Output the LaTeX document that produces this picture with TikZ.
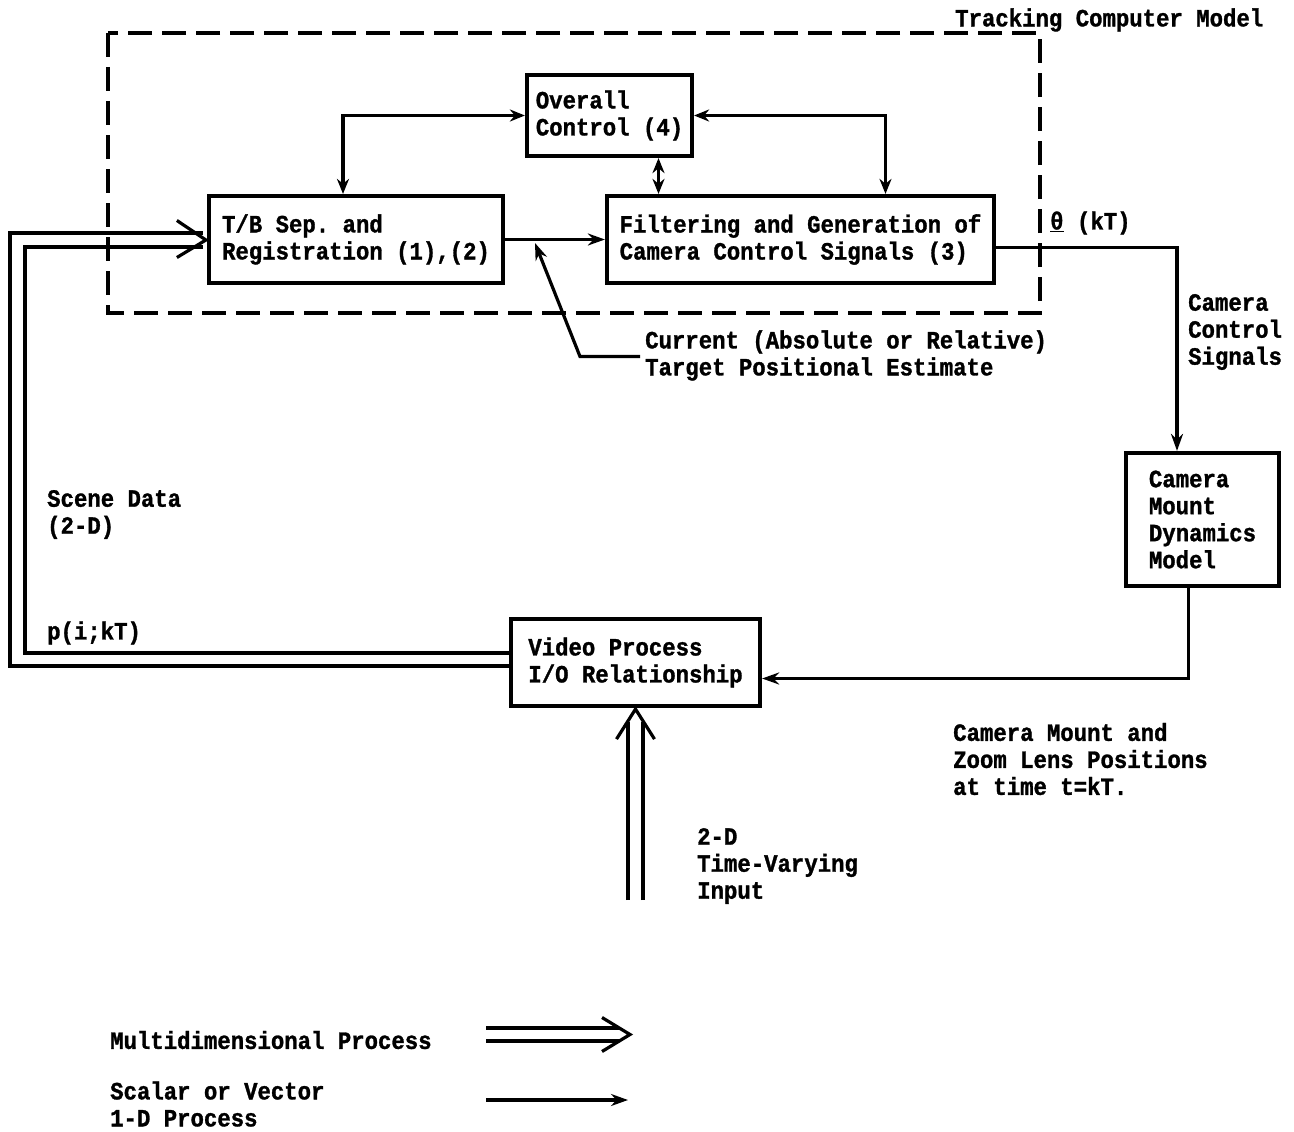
\documentclass[tikz,border=0pt]{standalone}
\usepackage{fontspec}
\setmainfont{Liberation Mono}[FakeStretch=0.9,FakeBold=1.2]
\usetikzlibrary{arrows.meta,calc}
\begin{document}
\frenchspacing
\begin{tikzpicture}[x=1pt,y=-1pt,
  font=\fontsize{24.8}{27}\selectfont\bfseries\frenchspacing,
  box/.style={draw,line width=4.2pt,inner sep=0pt,align=left},
  lbl/.style={inner sep=0pt,anchor=west,align=left},
  conn/.style={line width=3.2pt},
  arr/.style={conn,-{Stealth[length=17pt,width=12pt]}},
  darr/.style={conn,{Stealth[length=15pt,width=12pt]}-{Stealth[length=15pt,width=12pt]}},
  chev/.style={line width=3.2pt,line join=miter}
]
\useasboundingbox (0,0) rectangle (1294,1132);
\fill[white] (0,0) rectangle (1294,1132);

% dashed frame
\draw[line width=3.4pt,dash pattern=on 24pt off 10pt] (108,33) rectangle (1040,313);
\node[lbl] (tcm) at (955,20) {Tracking Computer Model};

% boxes
\node[box,minimum width=165pt,minimum height=81pt] (ov) at (609.5,115.5) {Overall\\Control (4)};
\node[box,minimum width=294pt,minimum height=87pt] (tb) at (356,239.5) {T/B Sep. and\\Registration (1),(2)};
\node[box,minimum width=387pt,minimum height=87pt] (flt) at (800.5,239.5) {Filtering and Generation of\\Camera Control Signals (3)};
\node[box,minimum width=153pt,minimum height=133pt] (cam) at (1202.5,519.5) {Camera\\Mount\\Dynamics\\Model};
\node[box,minimum width=249pt,minimum height=87pt] (vid) at (635.5,662.5) {Video Process\\I/O Relationship};

% labels
\node[lbl] (theta) at (1050,223) {\underline{θ} (kT)};
\node[lbl] (ccs) at (1188,332) {Camera\\Control\\Signals};
\node[lbl] (cur) at (645,355.5) {Current (Absolute or Relative)\\Target Positional Estimate};
\node[lbl] (scene) at (47,514.5) {Scene Data\\(2-D)};
\node[lbl] (pik) at (47,633) {p(i;kT)};
\node[lbl] (cmz) at (953,759) {Camera Mount and\\Zoom Lens Positions\\at time t=kT.};
\node[lbl] (tvi) at (697,866) {2-D\\Time-Varying\\Input};
\node[lbl] (lg1) at (110,1040) {Multidimensional Process};
\node[lbl] (lg2) at (110,1104) {Scalar or Vector\\1-D Process};

% connectors inside the tracking computer
\draw[darr] (ov.west) -| ([xshift=-13pt]tb.north);
\draw[darr] (ov.east) -| ([xshift=85pt]flt.north);
\draw[darr] ([xshift=49pt]ov.south) -- ([xshift=49pt]ov.south |- flt.north);
\draw[arr] (tb.east) -- (flt.west);

% current estimate pointer
\coordinate (tip) at (535,243);
\draw[arr] ([xshift=-5pt,yshift=-1pt]cur.west) -- (580,356.5) -- (tip);

% output to camera mount and back
\draw[arr] ([yshift=-8pt]flt.east) -| ([xshift=-25.5pt]cam.north);
\draw[arr] ([xshift=-14pt]cam.south) |- ([yshift=-16pt]vid.east);

% multidimensional feedback video -> T/B
\coordinate (oc) at (10,450);
\coordinate (ic) at (25,450);
\draw[conn] ([yshift=-3.5pt]vid.west) -| (oc) |- ([xshift=-4pt,yshift=6.5pt]tb.west);
\draw[conn] ([yshift=9.5pt]vid.west) -| (ic) |- ([xshift=-4pt,yshift=-7.5pt]tb.west);
\draw[chev] ([xshift=-30pt,yshift=19pt]tb.west) -- ([xshift=-1pt,yshift=-0.5pt]tb.west) -- ([xshift=-30pt,yshift=-18pt]tb.west);

% multidimensional input into video
\coordinate (inp) at (635.5,900);
\draw[conn] ([xshift=-7.5pt]inp) -- ([xshift=-7.5pt,yshift=-14pt]vid.south);
\draw[conn] ([xshift=7.5pt]inp) -- ([xshift=7.5pt,yshift=-14pt]vid.south);
\draw[chev] ([xshift=-19pt,yshift=-31pt]vid.south) -- ([yshift=-1pt]vid.south) -- ([xshift=19pt,yshift=-31pt]vid.south);

% legend
\coordinate (m0) at (486,1034.5);
\coordinate (m1) at (630,1034.5);
\draw[conn] ([yshift=6.5pt]m0) -- ([xshift=-11pt,yshift=6.5pt]m1);
\draw[conn] ([yshift=-6.5pt]m0) -- ([xshift=-11pt,yshift=-6.5pt]m1);
\draw[chev] ([xshift=-28pt,yshift=17pt]m1) -- (m1) -- ([xshift=-28pt,yshift=-17pt]m1);
\coordinate (s0) at (486,1100);
\coordinate (s1) at (628,1100);
\draw[arr] (s0) -- (s1);
\end{tikzpicture}
\end{document}
